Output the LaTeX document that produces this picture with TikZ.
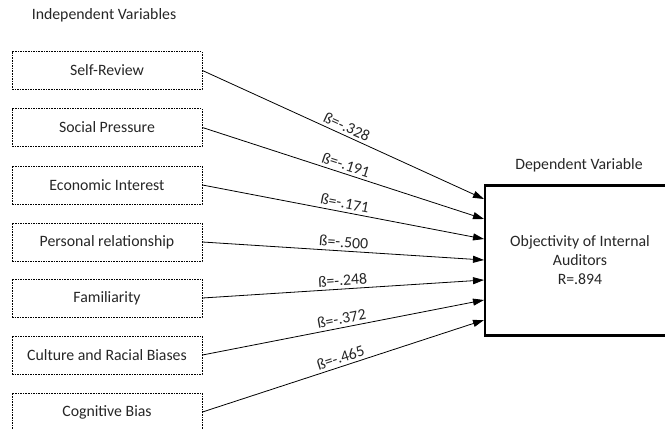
\documentclass[tikz,border=0pt]{standalone}
\usepackage{fontspec}
\setmainfont{Carlito}
\usetikzlibrary{arrows.meta}
\definecolor{txt}{RGB}{38,38,38}
\begin{document}
\begin{tikzpicture}[x=1pt,y=-1pt,
  font=\fontsize{15.8}{19}\selectfont, text=txt,
  ivbox/.style={draw=black, line width=0.9pt, dash pattern=on 1.6pt off 1pt,
    minimum width=190pt, minimum height=38pt, inner sep=0pt},
  dvbox/.style={draw=black, line width=2.6pt, minimum width=190pt, minimum height=150pt,
    align=center, inner sep=0pt},
  conn/.style={draw=black, line width=0.8pt, -{Triangle[length=11pt,width=7pt]}},
  beta/.style={sloped, above=2pt, pos=0.5, inner sep=1pt},
  heading/.style={inner sep=0pt}
]
\useasboundingbox (0,0) rectangle (665,429);
\clip (0,0) rectangle (665,429);

\node[heading] (ih) at (104,15) {Independent Variables};
\node[heading] (dh) at (579,165) {Dependent Variable};

\node[ivbox] (sr) at (107,70.5) {Self-Review};
\node[ivbox] (sp) at (107,127.5) {Social Pressure};
\node[ivbox] (ei) at (107,185) {Economic Interest};
\node[ivbox] (pr) at (107,242) {Personal relationship};
\node[ivbox] (fa) at (107,298) {Familiarity};
\node[ivbox] (cr) at (107,355) {Culture and Racial Biases};
\node[ivbox] (cb) at (107,412) {Cognitive Bias};

\node[dvbox] (dv) at (580,260.5) {Objectivity of Internal\\Auditors\\R=.894};

\coordinate (t1) at (484,199);
\coordinate (t2) at (484,219);
\coordinate (t3) at (484,239);
\coordinate (t4) at (484,260);
\coordinate (t5) at (484,280);
\coordinate (t6) at (484,300);
\coordinate (t7) at (484,320);

\draw[conn] (sr.east) -- node[beta] {ß=-.328} (t1);
\draw[conn] (sp.east) -- node[beta] {ß=-.191} (t2);
\draw[conn] (ei.east) -- node[beta] {ß=-.171} (t3);
\draw[conn] (pr.east) -- node[beta] {ß=-.500} (t4);
\draw[conn] (fa.east) -- node[beta] {ß=-.248} (t5);
\draw[conn] (cr.east) -- node[beta] {ß=-.372} (t6);
\draw[conn] (cb.east) -- node[beta] {ß=-.465} (t7);
\end{tikzpicture}
\end{document}
